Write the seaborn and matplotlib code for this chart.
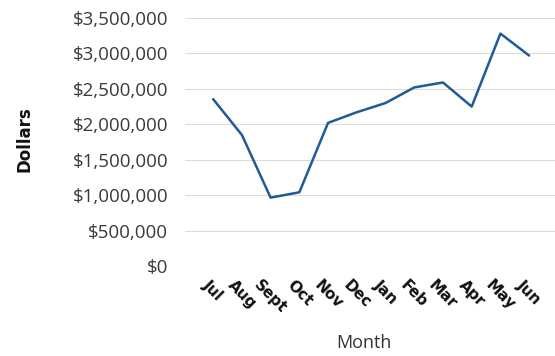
import matplotlib
matplotlib.use("Agg")
import matplotlib.pyplot as plt
import matplotlib.ticker as mticker
import seaborn as sns
import pandas as pd

months = ["Jul", "Aug", "Sept", "Oct", "Nov", "Dec", "Jan", "Feb", "Mar", "Apr", "May", "Jun"]
dollars = [2355000, 1850000, 965000, 1040000, 2020000, 2170000, 2300000, 2520000, 2590000, 2250000, 3280000, 2970000]
y_ticks = [0, 500000, 1000000, 1500000, 2000000, 2500000, 3000000, 3500000]

df = pd.DataFrame({"idx": range(len(months)), "Month": months, "Dollars": dollars})

sns.set_theme(style="white")
plt.rcParams["font.family"] = ["Open Sans", "DejaVu Sans"]

fig = plt.figure(figsize=(5.55, 3.56), dpi=100)
ax = fig.add_axes([185 / 555, 90 / 356, 370 / 555, 248 / 356])

sns.lineplot(data=df, x="idx", y="Dollars", ax=ax, color="#1f5b97", linewidth=1.8)

ax.set_ylim(0, 3500000)
ax.set_xlim(-0.98, 11.9)
ax.set_yticks(y_ticks)
ax.yaxis.set_major_formatter(mticker.FuncFormatter(lambda v, p: f"${v:,.0f}"))
ax.tick_params(axis="y", labelsize=13.5, labelcolor="#3a3a3a", length=0, pad=12)
ax.set_xticks(range(len(months)))
ax.set_xticklabels(months, rotation=-45, ha="center", va="top", rotation_mode="default",
                   fontweight="bold", fontsize=11, color="#111111",
                   family=["DejaVu Sans"])
ax.tick_params(axis="x", length=0, pad=8)

ax.grid(axis="y", color="#dcdcdc", linewidth=0.8)
ax.set_axisbelow(True)
for s in ax.spines.values():
    s.set_visible(False)

ax.set_ylabel("Dollars", fontweight="bold", fontsize=12, color="#111111",
              family=["DejaVu Sans"])
ax.yaxis.set_label_coords(-0.41, 0.51)
ax.set_xlabel("Month", fontsize=13, color="#333333")
ax.xaxis.set_label_coords(0.484, -0.275)

fig.savefig("out.png", dpi=100)
